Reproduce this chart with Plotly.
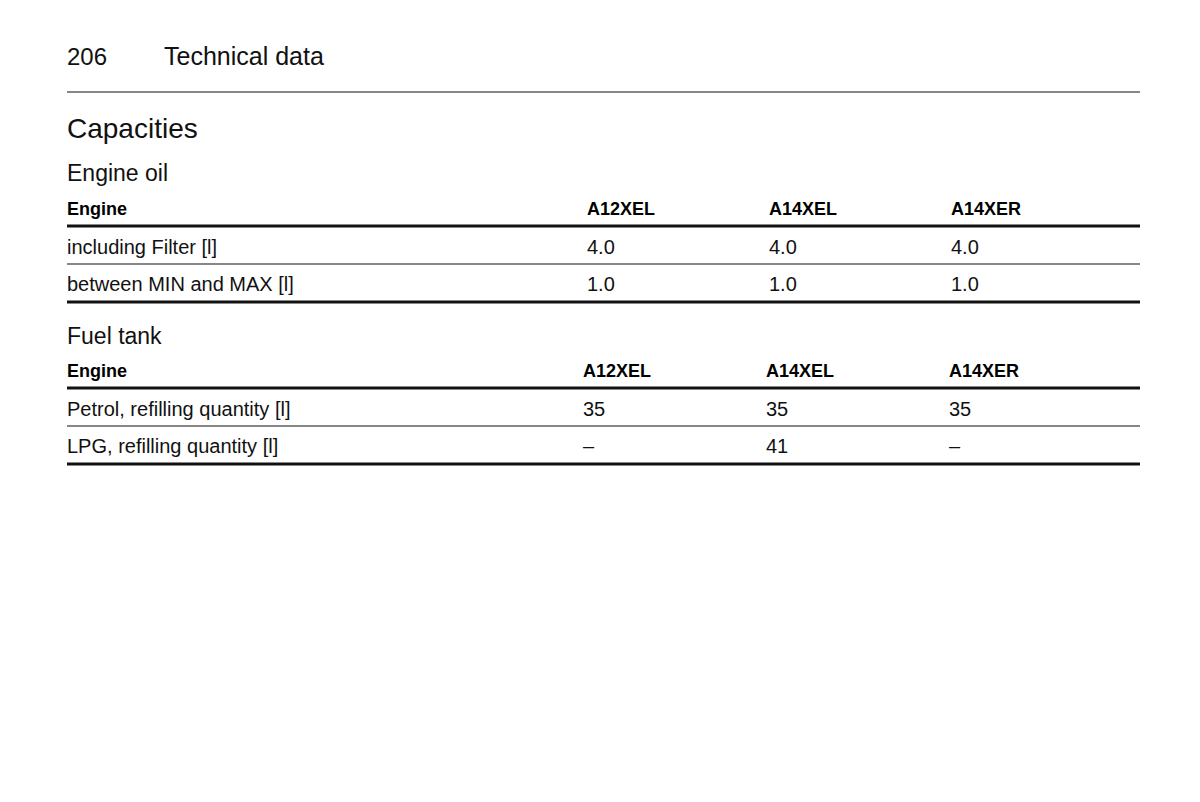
import plotly.graph_objects as go

page_number = "206"
section = "Technical data"
title = "Capacities"

oil_title = "Engine oil"
oil_header = ["Engine", "A12XEL", "A14XEL", "A14XER"]
oil_rows = [
    ["including Filter [l]", "4.0", "4.0", "4.0"],
    ["between MIN and MAX [l]", "1.0", "1.0", "1.0"],
]

fuel_title = "Fuel tank"
fuel_header = ["Engine", "A12XEL", "A14XEL", "A14XER"]
fuel_rows = [
    ["Petrol, refilling quantity [l]", "35", "35", "35"],
    ["LPG, refilling quantity [l]", "–", "41", "–"],
]

FONT = "Liberation Sans, Arial, sans-serif"
OFF = 8  # browser body margin compensation
fig = go.Figure()
ann = []
shapes = []

def text(x, y, s, size, color="#111", bold=False):
    ann.append(dict(x=x + OFF, y=y + OFF, xref="x", yref="y",
                    text=f"<b>{s}</b>" if bold else s, showarrow=False,
                    xanchor="left", yanchor="middle",
                    font=dict(family=FONT, size=size, color=color)))

def hline(y, w):
    shapes.append(dict(type="line", xref="x", yref="y", x0=51 + OFF, x1=1124 + OFF,
                       y0=y + OFF, y1=y + OFF, line=dict(color="#111", width=w)))

text(49, 40, page_number, 24)
text(146, 40, section, 25)
hline(76, 1.2)
text(49, 112, title, 28)

def table(y_title, t, header, rows, cols, y_header):
    text(49, y_title, t, 23)
    for c, h in zip(cols, header):
        text(c, y_header, h, 18, "#000", bold=True)
    hline(y_header + 17, 3)
    y = y_header + 38
    for i, r in enumerate(rows):
        for c, v in zip(cols, r):
            text(c, y, v, 20)
        last = i == len(rows) - 1
        hline(y + (18 if last else 17), 3 if last else 1.2)
        y += 37

table(157, oil_title, oil_header, oil_rows, [49, 569, 751, 933], 193)
table(320, fuel_title, fuel_header, fuel_rows, [49, 565, 748, 931], 355)

fig.update_layout(width=1200, height=802, margin=dict(l=0, r=0, t=0, b=0),
                  paper_bgcolor="white", plot_bgcolor="white",
                  annotations=ann, shapes=shapes, showlegend=False,
                  xaxis=dict(range=[0, 1200], visible=False, fixedrange=True),
                  yaxis=dict(range=[802, 0], visible=False, fixedrange=True))
fig.write_html("out.html")
